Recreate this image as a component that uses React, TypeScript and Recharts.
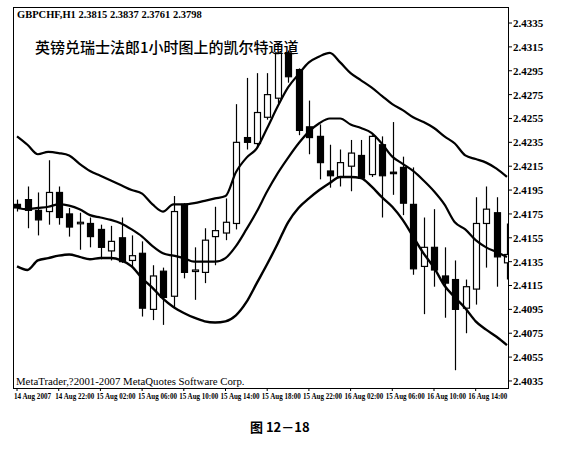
import React from "react";
import { ComposedChart, Bar, Line, XAxis, YAxis } from "recharts";

// hourly GBPCHF candles, 14 Aug 18:00 .. 16 Aug 17:00
const opens = [
  2.4183, 2.4187, 2.4178, 2.4177, 2.4193, 2.4175, 2.4167, 2.4167, 2.4162, 2.4144,
  2.4155, 2.4136, 2.4142, 2.4095, 2.4127, 2.4106, 2.4183, 2.4127, 2.4126, 2.4156,
  2.4159, 2.4167, 2.4239, 2.4234, 2.4256, 2.4272, 2.431, 2.4296, 2.4248, 2.424,
  2.4211, 2.4206, 2.4215, 2.4224, 2.4208, 2.4233, 2.421, 2.4214, 2.4183, 2.4131,
  2.4147, 2.4123, 2.412, 2.4096, 2.4112, 2.4167, 2.4176, 2.4134,
];
const highs = [
  2.4187, 2.4198, 2.4193, 2.422, 2.4198, 2.418, 2.4176, 2.4172, 2.4166, 2.4165,
  2.4172, 2.4157, 2.4152, 2.4132, 2.413, 2.419, 2.4184, 2.4147, 2.4163, 2.4181,
  2.4188, 2.4267, 2.4289, 2.4293, 2.4293, 2.4311, 2.4312, 2.4297, 2.427, 2.425,
  2.4233, 2.4229, 2.4237, 2.4237, 2.4241, 2.424, 2.4252, 2.4223, 2.4214, 2.4172,
  2.4179, 2.4147, 2.4136, 2.412, 2.4189, 2.4198, 2.4189, 2.4167,
];
const lows = [
  2.4177, 2.4163, 2.4157, 2.4166, 2.4166, 2.4156, 2.4145, 2.4147, 2.4137, 2.4136,
  2.4134, 2.4131, 2.4089, 2.4086, 2.4082, 2.4097, 2.4121, 2.4103, 2.4117, 2.4132,
  2.4153, 2.4162, 2.4229, 2.423, 2.4254, 2.4268, 2.4285, 2.4241, 2.4225, 2.4204,
  2.4197, 2.4198, 2.4194, 2.4205, 2.4206, 2.4172, 2.4191, 2.4174, 2.4124, 2.4091,
  2.4114, 2.4088, 2.4044, 2.4075, 2.4099, 2.413, 2.4114, 2.412,
];
const closes = [
  2.418, 2.4178, 2.417, 2.4193, 2.4172, 2.4164, 2.4168, 2.4156, 2.4147, 2.4152,
  2.4135, 2.414, 2.4096, 2.4123, 2.4105, 2.4177, 2.4126, 2.4128, 2.4153, 2.4161,
  2.4168, 2.4235, 2.4235, 2.426, 2.4275, 2.431, 2.429, 2.4245, 2.4239, 2.4218,
  2.4207, 2.4218, 2.4226, 2.4205, 2.424, 2.4207, 2.4209, 2.4184, 2.4129, 2.4147,
  2.4128, 2.4117, 2.4095, 2.4114, 2.4167, 2.4179, 2.4139, 2.4141,
];

// Keltner channel
const upperBand = [
  2.424, 2.4233, 2.4225, 2.4227, 2.4226, 2.4224, 2.4217, 2.4211, 2.4207, 2.4203,
  2.4199, 2.4195, 2.4192, 2.4183, 2.4177, 2.4183, 2.4183, 2.4184, 2.4186, 2.4188,
  2.419, 2.421, 2.4222, 2.423, 2.4247, 2.4265, 2.4281, 2.4292, 2.4302, 2.4307,
  2.431, 2.4302, 2.4293, 2.4287, 2.4281, 2.4274, 2.4267, 2.4262, 2.4256, 2.4252,
  2.4247, 2.424, 2.4234, 2.4224, 2.4221, 2.4218, 2.4213, 2.4206,
];
const middleBand = [
  2.418, 2.4179, 2.418, 2.4181, 2.4183, 2.4182, 2.4179, 2.4174, 2.4172, 2.417,
  2.4167, 2.4162, 2.4156, 2.4148, 2.4142, 2.414, 2.4138, 2.4135, 2.4135, 2.4135,
  2.4138, 2.4148, 2.4162, 2.4177, 2.4194, 2.4209, 2.4222, 2.4234, 2.4244, 2.4251,
  2.4255, 2.4255, 2.425, 2.4247, 2.4243, 2.4234, 2.4223, 2.4217, 2.4211, 2.4203,
  2.4194, 2.4183, 2.4168, 2.4162, 2.4153, 2.4147, 2.4143, 2.4139,
];
const lowerBand = [
  2.4131, 2.4128, 2.4136, 2.4138, 2.414, 2.4141, 2.4139, 2.4137, 2.4138, 2.4138,
  2.4136, 2.4131, 2.4121, 2.4113, 2.4104, 2.4097, 2.4092, 2.4088, 2.4085, 2.4084,
  2.4085, 2.409, 2.4101, 2.4117, 2.4133, 2.415, 2.4168, 2.418, 2.4188, 2.4195,
  2.4201, 2.4206, 2.4206, 2.4205, 2.4198, 2.4189, 2.4181, 2.417, 2.4156, 2.4142,
  2.413, 2.4115, 2.4105, 2.4096, 2.4085, 2.4078, 2.4072, 2.4065,
];

const timeLabels = [
  "14 Aug 2007", "14 Aug 22:00", "15 Aug 02:00", "15 Aug 06:00", "15 Aug 10:00", "15 Aug 14:00",
  "15 Aug 18:00", "15 Aug 22:00", "16 Aug 02:00", "15 Aug 06:00", "16 Aug 10:00", "16 Aug 14:00",
];
const priceTicks = [
  2.4035, 2.4055, 2.4075, 2.4095, 2.4115, 2.4135, 2.4155, 2.4175,
  2.4195, 2.4215, 2.4235, 2.4255, 2.4275, 2.4295, 2.4315, 2.4335,
];

const data = opens.map((open, i) => ({
  i,
  open,
  close: closes[i],
  high: highs[i],
  low: lows[i],
  range: [lows[i], highs[i]],
  upper: upperBand[i],
  middle: middleBand[i],
  lower: lowerBand[i],
}));

const labelTicks = timeLabels.map((_, k) => k * 4);
const serif = "'Liberation Serif', 'Times New Roman', serif";

function Candle(props: any) {
  const { x, y, width, height, payload } = props;
  if (!payload) return null;
  const { open, close, high, low } = payload;
  const top = Math.min(y, y + height);
  const h = Math.abs(height);
  const k = h / (high - low);
  const yOf = (p: number) => top + (high - p) * k;
  const cx = Math.round(x + width / 2) + 0.5;
  const bTop = yOf(Math.max(open, close));
  const bBot = yOf(Math.min(open, close));
  const up = close >= open;
  return (
    <g>
      <line x1={cx} x2={cx} y1={top} y2={top + h} stroke="#000" strokeWidth={1.2} />
      <rect
        x={cx - 3}
        y={bTop}
        width={6}
        height={Math.max(bBot - bTop, 1.5)}
        fill={up ? "#fff" : "#000"}
        stroke="#000"
        strokeWidth={1.2}
      />
    </g>
  );
}

function TimeTick(props: any) {
  const { x, payload } = props;
  const label = timeLabels[payload.value / 4];
  const k = payload.value / 4;
  return (
    <g>
      <line x1={x} x2={x} y1={388} y2={391} stroke="#000" strokeWidth={1} />
      <text
        x={x - 3 - k * 0.4}
        y={399}
        fontSize={7.4}
        fontWeight="bold"
        fontFamily={serif}
        fill="#000"
        textAnchor="start"
        textLength={label.length > 11 ? 39 : 37}
        lengthAdjust="spacingAndGlyphs"
      >
        {label}
      </text>
    </g>
  );
}

export default function App() {
  return (
    <div style={{ position: "absolute", left: 0, top: 0, width: 583, height: 449, background: "#fff" }}>
      <ComposedChart width={583} height={449} data={data} margin={{ top: 8, right: 15, bottom: 41, left: 14 }}>
        <XAxis
          dataKey="i"
          type="number"
          domain={[-0.29, 47.1]}
          allowDataOverflow
          ticks={labelTicks}
          tick={<TimeTick />}
          tickLine={false}
          axisLine={false}
          height={20}
          interval={0}
        />
        <YAxis
          orientation="right"
          domain={[2.40291, 2.43476]}
          allowDataOverflow
          ticks={priceTicks}
          interval={0}
          width={60}
          tickSize={4}
          tickMargin={1}
          axisLine={false}
          tickLine={{ stroke: "#000" }}
          tickFormatter={(v: number) => v.toFixed(4)}
          tick={{ fontSize: 11, fontWeight: "bold", fontFamily: serif, fill: "#000" }}
        />
        <Bar dataKey="range" barSize={7} shape={<Candle />} isAnimationActive={false} />
        <Line dataKey="upper" type="monotone" stroke="#000" strokeWidth={2.2} dot={false} isAnimationActive={false} />
        <Line dataKey="middle" type="monotone" stroke="#000" strokeWidth={2.2} dot={false} isAnimationActive={false} />
        <Line dataKey="lower" type="monotone" stroke="#000" strokeWidth={2.4} dot={false} isAnimationActive={false} />
      </ComposedChart>
      <div
        style={{
          position: "absolute",
          left: 13,
          top: 7,
          width: 494,
          height: 380,
          border: "1.5px solid #000",
          pointerEvents: "none",
        }}
      />
      <div style={{ position: "absolute", left: 17, top: 9, fontFamily: serif, fontSize: 10.5, fontWeight: "bold", whiteSpace: "nowrap" }}>
        GBPCHF,H1 2.3815 2.3837 2.3761 2.3798
      </div>
      <div
        style={{
          position: "absolute",
          left: 35,
          top: 36,
          fontFamily: "'Noto Sans CJK SC', sans-serif",
          fontSize: 15,
          fontWeight: 500,
          whiteSpace: "nowrap",
        }}
      >
        英镑兑瑞士法郎1小时图上的凯尔特通道
      </div>
      <div style={{ position: "absolute", left: 16, top: 375, fontFamily: serif, fontSize: 10.8, whiteSpace: "nowrap" }}>
        MetaTrader,?2001-2007 MetaQuotes Software Corp.
      </div>
      <div
        style={{
          position: "absolute",
          left: 250,
          top: 417,
          fontFamily: "'Noto Sans CJK SC', sans-serif",
          fontSize: 13,
          fontWeight: "bold",
          whiteSpace: "nowrap",
        }}
      >
        图 12－18
      </div>
    </div>
  );
}
